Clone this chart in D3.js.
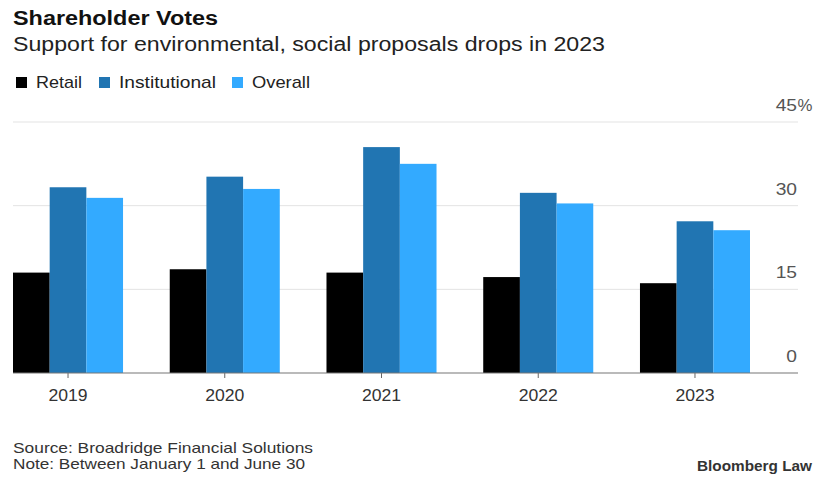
<!DOCTYPE html>
<html>
<head>
<meta charset="utf-8">
<script src="https://cdn.jsdelivr.net/npm/d3@7"></script>
<style>
  body { margin: 0; background: #fff; }
  text { font-family: "Liberation Sans", Arial, sans-serif; }
</style>
</head>
<body>
<div id="chart-area"></div>
<script>
// data
var years = ["2019", "2020", "2021", "2022", "2023"];
var series = ["Retail", "Institutional", "Overall"];
var retail = [18.0, 18.6, 18.0, 17.2, 16.1];
var institutional = [33.3, 35.2, 40.5, 32.3, 27.2];
var overall = [31.4, 33.0, 37.5, 30.4, 25.6];
var yTicks = [0, 15, 30, 45];
var colors = ["#000000", "#2175b2", "#33aaff"];

var W = 820, H = 477;
var margin = { left: 13, right: 22, top: 122, bottom: 104 };
var width = W - margin.left - margin.right;
var height = H - margin.top - margin.bottom;

// the reference type is a bit wider than Liberation Sans, so stretch it
function stretch(sel, k) {
    sel.each(function(){
        var w = this.getComputedTextLength();
        d3.select(this)
            .attr("textLength", w * k)
            .attr("lengthAdjust", "spacingAndGlyphs");
    });
}
function fitTo(sel, w) {
    sel.attr("textLength", w).attr("lengthAdjust", "spacingAndGlyphs");
}

var svg = d3.select("#chart-area")
    .append("svg")
        .attr("width", W)
        .attr("height", H);

// titles
svg.append("text")
    .attr("x", 13).attr("y", 25)
    .attr("font-size", "20px")
    .attr("font-weight", "bold")
    .attr("fill", "#111")
    .text("Shareholder Votes")
    .call(fitTo, 205);

svg.append("text")
    .attr("x", 13).attr("y", 51)
    .attr("font-size", "20px")
    .attr("fill", "#222")
    .text("Support for environmental, social proposals drops in 2023")
    .call(fitTo, 592);

// legend
var legendX = [16, 99, 232];
var legendW = [46, 97, 58];
var legend = svg.selectAll(".legend")
    .data(series)
    .enter().append("g")
        .attr("class", "legend")
        .attr("transform", function(d, i){ return "translate(" + legendX[i] + ",77)"; });

legend.append("rect")
    .attr("width", 11).attr("height", 11)
    .attr("fill", function(d, i){ return colors[i]; });

legend.append("text")
    .attr("x", 20).attr("y", 11)
    .attr("font-size", "17px")
    .attr("fill", "#222")
    .text(function(d){ return d; })
    .attr("textLength", function(d, i){ return legendW[i]; })
    .attr("lengthAdjust", "spacingAndGlyphs");

var g = svg.append("g")
    .attr("transform", "translate(" + margin.left + "," + margin.top + ")");

var y = d3.scaleLinear()
    .domain([0, 45])
    .range([height, 0]);

var x0 = d3.scaleBand()
    .domain(years)
    .range([0, 737])
    .paddingInner(0.298)
    .paddingOuter(0);

var x1 = d3.scaleBand()
    .domain(series)
    .range([0, x0.bandwidth()]);

// grid lines
g.selectAll(".grid")
    .data(yTicks.filter(function(d){ return d > 0; }))
    .enter().append("line")
        .attr("x1", 0).attr("x2", width)
        .attr("y1", function(d){ return y(d); })
        .attr("y2", function(d){ return y(d); })
        .attr("stroke", "#e3e3e3")
        .attr("stroke-width", 1);

// y labels on the right
g.selectAll(".ylab")
    .data(yTicks)
    .enter().append("text")
        .attr("x", width - 1)
        .attr("y", function(d){ return y(d) - 11; })
        .attr("text-anchor", "end")
        .attr("font-size", "16px")
        .attr("fill", "#555")
        .text(function(d){ return d; })
        .call(stretch, 1.2);

g.append("text")
    .attr("x", width - 0.5)
    .attr("y", y(45) - 11)
    .attr("font-size", "16px")
    .attr("fill", "#555")
    .text("%")
    .call(stretch, 1.05);

var rows = years.map(function(yr, i){
    return { year: yr, values: [retail[i], institutional[i], overall[i]] };
});

var groups = g.selectAll(".year")
    .data(rows)
    .enter().append("g")
        .attr("transform", function(d){ return "translate(" + x0(d.year) + ",0)"; });

groups.selectAll("rect")
    .data(function(d){ return d.values.map(function(v, i){ return { s: series[i], v: v, i: i }; }); })
    .enter().append("rect")
        .attr("x", function(d){ return x1(d.s); })
        .attr("width", x1.bandwidth())
        .attr("y", function(d){ return y(d.v); })
        .attr("height", function(d){ return height - y(d.v); })
        .attr("fill", function(d){ return colors[d.i]; });

// x axis
var xAxisCall = d3.axisBottom(x0)
    .tickSize(5)
    .tickPadding(12);

var xAxis = g.append("g")
    .attr("transform", "translate(0," + height + ")")
    .call(xAxisCall);

xAxis.select(".domain").remove();
xAxis.selectAll("line").attr("stroke", "#666");
xAxis.selectAll("text")
    .attr("font-size", "16px")
    .attr("fill", "#333")
    .call(stretch, 1.1);

g.append("line")
    .attr("x1", 0).attr("x2", width)
    .attr("y1", height).attr("y2", height)
    .attr("stroke", "#777")
    .attr("stroke-width", 1.2);

// footer
svg.append("text")
    .attr("x", 13).attr("y", 453)
    .attr("font-size", "15px")
    .attr("fill", "#333")
    .text("Source: Broadridge Financial Solutions")
    .call(fitTo, 300);

svg.append("text")
    .attr("x", 13).attr("y", 469)
    .attr("font-size", "15px")
    .attr("fill", "#333")
    .text("Note: Between January 1 and June 30")
    .call(fitTo, 292);

svg.append("text")
    .attr("x", 697).attr("y", 471)
    .attr("font-size", "14px")
    .attr("font-weight", "bold")
    .attr("fill", "#333")
    .text("Bloomberg Law")
    .call(fitTo, 115);
</script>
</body>
</html>
